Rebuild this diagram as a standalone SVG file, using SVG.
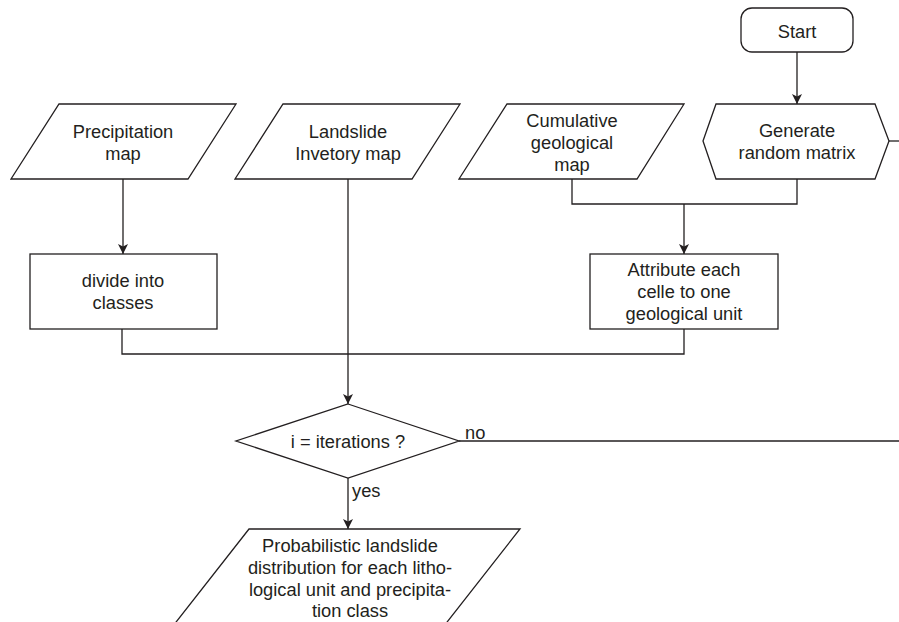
<svg xmlns="http://www.w3.org/2000/svg" width="899" height="622" viewBox="0 0 899 622">
<defs>
<style>
.s{fill:#fff;stroke:#231f20;stroke-width:1.3}
.c{fill:none;stroke:#231f20;stroke-width:1.3}
text{font-family:"Liberation Sans",Arial,sans-serif;font-size:18.3px;fill:#231f20;text-anchor:middle;dominant-baseline:central}
.l{text-anchor:start}
</style>
<marker id="ah" viewBox="0 0 10 10" refX="10" refY="5" markerWidth="10" markerHeight="10" markerUnits="userSpaceOnUse" orient="auto">
<path d="M0,0 L10,5 L0,10 L2.5,5 Z" fill="#231f20"/>
</marker>
</defs>
<rect width="899" height="622" fill="#fff"/>
<g id="connectors">
<path class="c" d="M797,52 V104" marker-end="url(#ah)"/>
<path class="c" d="M123,179 V254" marker-end="url(#ah)"/>
<path class="c" d="M348,179 V404" marker-end="url(#ah)"/>
<path class="c" d="M572,179 V204 H797 V179"/>
<path class="c" d="M684,204 V254" marker-end="url(#ah)"/>
<path class="c" d="M122,329 V354 H684 V329"/>
<path class="c" d="M348,478 V529" marker-end="url(#ah)"/>
<path class="c" d="M459,441 H899"/>
<path class="c" d="M889,141 H899"/>
<text class="l" x="465" y="432">no</text>
<text class="l" x="352" y="490">yes</text>
</g>
<g id="start">
<rect class="s" x="741" y="8" width="112" height="44" rx="11"/>
<text x="797" y="31">Start</text>
</g>
<g id="generate">
<polygon class="s" points="703,141 716,104 875,104 889,141 875,179 716,179"/>
<text x="797" y="130">Generate</text>
<text x="797" y="152">random matrix</text>
</g>
<g id="precip">
<polygon class="s" points="59,104 236,104 188,179 11,179"/>
<text x="123" y="131">Precipitation</text>
<text x="123" y="153">map</text>
</g>
<g id="landslide">
<polygon class="s" points="283,104 460,104 412,179 235,179"/>
<text x="348" y="131">Landslide</text>
<text x="348" y="153">Invetory map</text>
</g>
<g id="cumulative">
<polygon class="s" points="507,104 684,104 637,179 459,179"/>
<text x="572" y="120">Cumulative</text>
<text x="572" y="142">geological</text>
<text x="572" y="164">map</text>
</g>
<g id="divide">
<rect class="s" x="30" y="254" width="187" height="75"/>
<text x="123" y="280">divide into</text>
<text x="123" y="302">classes</text>
</g>
<g id="attribute">
<rect class="s" x="590" y="254" width="188" height="75"/>
<text x="684" y="269">Attribute each</text>
<text x="684" y="291">celle to one</text>
<text x="684" y="313">geological unit</text>
</g>
<g id="decision">
<polygon class="s" points="348,404 459,441 348,478 236,441"/>
<text x="348" y="441">i = iterations ?</text>
</g>
<g id="result">
<polygon class="s" points="249,529 520,529 433,640 162,640"/>
<text x="350" y="545">Probabilistic landslide</text>
<text x="350" y="567">distribution for each litho-</text>
<text x="350" y="589">logical unit and precipita-</text>
<text x="350" y="610">tion class</text>
</g>
</svg>
